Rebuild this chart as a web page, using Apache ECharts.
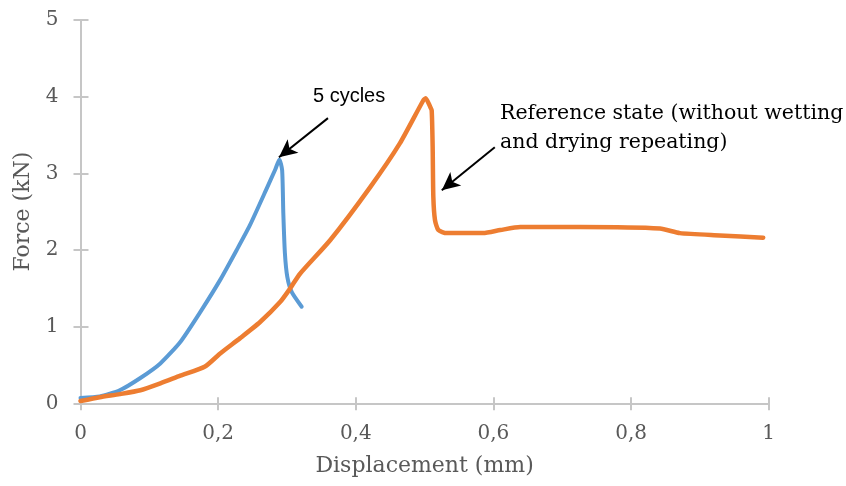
<!DOCTYPE html>
<html>
<head>
<meta charset="utf-8">
<script src="https://cdn.jsdelivr.net/npm/echarts@6/dist/echarts.min.js"></script>
<style>
  html, body { margin: 0; padding: 0; background: #fff; }
  #chart { width: 846px; height: 486px; }
</style>
</head>
<body>
<div id="chart"></div>
<script>
// displacement (mm) / force (kN)
var cyclesX = [0, 0.028, 0.057, 0.087, 0.116, 0.145, 0.174, 0.203, 0.227, 0.246, 0.271, 0.283, 0.289, 0.293, 0.2947, 0.297, 0.3005, 0.307, 0.3214];
var cyclesY = [0.07, 0.09, 0.17, 0.33, 0.52, 0.80, 1.19, 1.61, 2.00, 2.32, 2.81, 3.05, 3.18, 3.04, 2.48, 1.96, 1.65, 1.45, 1.26];

var refX = [0, 0.028, 0.057, 0.087, 0.116, 0.145, 0.181, 0.203, 0.232, 0.261, 0.29, 0.304, 0.319, 0.363, 0.421, 0.464, 0.498, 0.5016, 0.508, 0.5103, 0.5117, 0.5127, 0.5151, 0.520, 0.532, 0.585, 0.61, 0.639, 0.726, 0.842, 0.871, 0.929, 0.992];
var refY = [0.03, 0.08, 0.12, 0.17, 0.26, 0.36, 0.48, 0.65, 0.85, 1.06, 1.32, 1.49, 1.69, 2.13, 2.82, 3.39, 3.95, 3.98, 3.87, 3.82, 3.35, 2.69, 2.39, 2.26, 2.22, 2.22, 2.26, 2.30, 2.30, 2.28, 2.22, 2.19, 2.16];

var xTicks = [0, 0.2, 0.4, 0.6, 0.8, 1];
var yTicks = [0, 1, 2, 3, 4, 5];

// arrows: [tailX, tailY, tipX, tipY]
var arrowCycles = [0.3596, 3.72, 0.2884, 3.21];
var arrowRef = [0.602, 3.34, 0.525, 2.78];

function pairs(xs, ys) {
    var out = [];
    for (var i = 0; i < xs.length; i++) out.push([xs[i], ys[i]]);
    return out;
}
function arrow(a) {
    return [{ coord: [a[0], a[1]] }, { coord: [a[2], a[3]] }];
}

var grey = '#c6c6c6';
var labelCol = '#595959';
var serif = 'DejaVu Serif';
var gridBox = { left: 80.5, right: 77.3, top: 20, bottom: 82.7 };

var chart = echarts.init(document.getElementById('chart'));

var baseX = {
    type: 'value', min: xTicks[0], max: xTicks[xTicks.length - 1], interval: 0.2,
    splitLine: { show: false }
};
var baseY = {
    type: 'value', min: yTicks[0], max: yTicks[yTicks.length - 1], interval: 1,
    splitLine: { show: false }
};

var arrowLine = {
    silent: true, symbol: ['none', 'arrow'], symbolSize: [13, 18],
    label: { show: false },
    lineStyle: { color: '#000', type: 'solid', width: 2 }
};

var option = {
    animation: false,
    // two identical grids: grid 1 also draws the inner half of the crossing ticks
    grid: [Object.assign({}, gridBox), Object.assign({}, gridBox)],
    xAxis: [
        Object.assign({}, baseX, {
            gridIndex: 0,
            name: 'Displacement (mm)', nameLocation: 'middle', nameGap: 52,
            nameTextStyle: { color: labelCol, fontFamily: serif, fontSize: 22 },
            axisLine: { lineStyle: { color: grey, width: 2 } },
            axisTick: { inside: false, length: 7, lineStyle: { color: grey, width: 2 } },
            axisLabel: {
                color: labelCol, fontFamily: serif, fontSize: 20, margin: 20,
                formatter: function (v) { return String(+v.toFixed(1)).replace('.', ','); }
            }
        }),
        Object.assign({}, baseX, {
            gridIndex: 1, position: 'bottom',
            axisLine: { show: true, lineStyle: { color: grey, width: 2 } },
            axisTick: { show: true, inside: false, length: -6, lineStyle: { color: grey, width: 2 } },
            axisLabel: { show: false }
        })
    ],
    yAxis: [
        Object.assign({}, baseY, {
            gridIndex: 0,
            name: 'Force (kN)', nameLocation: 'middle', nameGap: 46,
            nameTextStyle: { color: labelCol, fontFamily: serif, fontSize: 22 },
            axisLine: { show: true, lineStyle: { color: grey, width: 2 } },
            axisTick: { show: true, inside: false, length: 7, lineStyle: { color: grey, width: 2 } },
            axisLabel: { color: labelCol, fontFamily: serif, fontSize: 20, margin: 22 }
        }),
        Object.assign({}, baseY, {
            gridIndex: 1, position: 'left',
            axisLine: { show: true, lineStyle: { color: grey, width: 2 } },
            axisTick: { show: true, inside: false, length: -8, lineStyle: { color: grey, width: 2 } },
            axisLabel: { show: false }
        })
    ],
    series: [
        {
            name: '5 cycles', type: 'line', showSymbol: false,
            xAxisIndex: 1, yAxisIndex: 1,
            smooth: 0.2,
            data: pairs(cyclesX, cyclesY),
            lineStyle: { color: '#5B9BD5', width: 4, join: 'round', cap: 'round' },
            itemStyle: { color: '#5B9BD5' },
            markLine: Object.assign({}, arrowLine, { data: [arrow(arrowCycles)] })
        },
        {
            name: 'Reference state', type: 'line', showSymbol: false,
            xAxisIndex: 0, yAxisIndex: 0,
            smooth: 0.2,
            data: pairs(refX, refY),
            lineStyle: { color: '#ED7D31', width: 4.5, join: 'round', cap: 'round' },
            itemStyle: { color: '#ED7D31' },
            markLine: Object.assign({}, arrowLine, { data: [arrow(arrowRef)] })
        }
    ],
    graphic: [
        {
            type: 'text', left: 313, top: 86,
            style: { text: '5 cycles', fill: '#000', font: '20px "Liberation Sans"' }
        },
        {
            type: 'text', left: 500, top: 99,
            style: {
                text: 'Reference state (without wetting\nand drying repeating)',
                fill: '#000', fontFamily: serif, fontSize: 20.5, lineHeight: 29
            }
        }
    ]
};

chart.setOption(option);
</script>
</body>
</html>
